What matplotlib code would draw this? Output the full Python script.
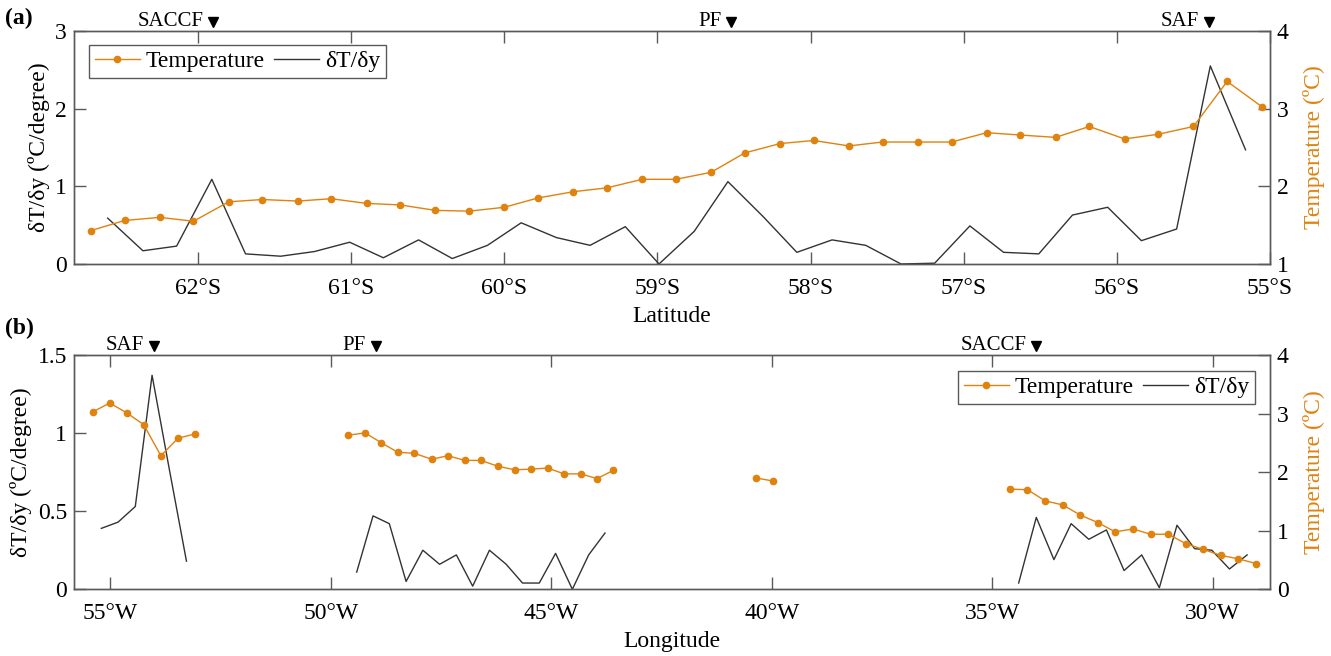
import numpy as np
import matplotlib
matplotlib.use("Agg")
import matplotlib.pyplot as plt
from matplotlib.ticker import FuncFormatter
import matplotlib.transforms as mtransforms

plt.rcParams['font.family'] = ['Liberation Serif', 'DejaVu Serif']
FS = 17
plt.rcParams['font.size'] = FS

ORANGE = '#E0820E'
AXCOL = '#5a5a5a'
LINECOL = '#333333'

# ---- panel (a): meridional section ----
lat_a = [-62.70, -62.48, -62.25, -62.03, -61.80, -61.58, -61.35, -61.13, -60.90, -60.68,
         -60.45, -60.23, -60.00, -59.78, -59.55, -59.33, -59.10, -58.88, -58.65, -58.43,
         -58.20, -57.98, -57.75, -57.53, -57.30, -57.08, -56.85, -56.63, -56.40, -56.18,
         -55.95, -55.73, -55.50, -55.28, -55.05]
temp_a = [1.43, 1.56, 1.60, 1.55, 1.80, 1.83, 1.81, 1.84, 1.78, 1.76,
          1.69, 1.68, 1.73, 1.85, 1.93, 1.98, 2.09, 2.09, 2.18, 2.43,
          2.55, 2.59, 2.52, 2.57, 2.57, 2.57, 2.69, 2.66, 2.63, 2.77,
          2.61, 2.67, 2.77, 3.35, 3.02]
glat_a = [-62.59, -62.36, -62.14, -61.91, -61.69, -61.46, -61.24, -61.01, -60.79, -60.56,
          -60.34, -60.11, -59.89, -59.66, -59.44, -59.21, -58.99, -58.76, -58.54, -58.31,
          -58.09, -57.86, -57.64, -57.41, -57.19, -56.96, -56.74, -56.51, -56.29, -56.06,
          -55.84, -55.61, -55.39, -55.16]
grad_a = [0.59, 0.17, 0.23, 1.09, 0.13, 0.10, 0.16, 0.28, 0.08, 0.31,
          0.07, 0.24, 0.53, 0.34, 0.24, 0.48, 0.00, 0.42, 1.06, 0.61,
          0.15, 0.31, 0.24, 0.00, 0.01, 0.49, 0.15, 0.13, 0.63, 0.73,
          0.30, 0.45, 2.55, 1.47]
fronts_a = {'SACCF': -61.90, 'PF': -58.52, 'SAF': -55.40}

# ---- panel (b): zonal section (gaps between segments) ----
lon_b = [-55.39, -55.01, -54.62, -54.24, -53.85, -53.46, -53.08, np.nan,
         -49.60, -49.22, -48.85, -48.48, -48.10, -47.71, -47.34, -46.96, -46.59,
         -46.21, -45.83, -45.46, -45.08, -44.71, -44.33, -43.96, -43.59, np.nan,
         -40.36, -39.98, np.nan,
         -34.60, -34.20, -33.80, -33.40, -33.01, -32.61, -32.21, -31.81, -31.41,
         -31.01, -30.61, -30.21, -29.82, -29.42, -29.02]
temp_b = [3.03, 3.18, 3.01, 2.81, 2.28, 2.58, 2.65, np.nan,
          2.63, 2.67, 2.50, 2.34, 2.32, 2.22, 2.28, 2.20, 2.20,
          2.10, 2.04, 2.05, 2.07, 1.97, 1.97, 1.89, 2.03, np.nan,
          1.90, 1.85, np.nan,
          1.71, 1.70, 1.51, 1.44, 1.27, 1.14, 0.98, 1.03, 0.94,
          0.94, 0.78, 0.68, 0.58, 0.52, 0.44]
glon_b = [-55.20, -54.82, -54.43, -54.05, -53.66, -53.27, np.nan,
          -49.41, -49.04, -48.67, -48.29, -47.91, -47.53, -47.15, -46.78, -46.40,
          -46.02, -45.65, -45.27, -44.90, -44.52, -44.15, -43.78, np.nan,
          -34.40, -34.00, -33.60, -33.21, -32.81, -32.41, -32.01, -31.61, -31.21,
          -30.81, -30.41, -30.02, -29.62, -29.22]
grad_b = [0.39, 0.43, 0.53, 1.37, 0.77, 0.18, np.nan,
          0.11, 0.47, 0.42, 0.05, 0.25, 0.16, 0.22, 0.02, 0.25,
          0.16, 0.04, 0.04, 0.23, 0.00, 0.22, 0.36, np.nan,
          0.04, 0.46, 0.19, 0.42, 0.32, 0.38, 0.12, 0.22, 0.01,
          0.41, 0.26, 0.25, 0.13, 0.22]
fronts_b = {'SAF': -54.01, 'PF': -48.98, 'SACCF': -34.01}


def style_axes(ax, ax2):
    for a in (ax, ax2):
        for sp in a.spines.values():
            sp.set_color(AXCOL)
            sp.set_linewidth(1.0)
    ax.tick_params(axis='x', direction='in', length=8.5, width=1.0, color=AXCOL,
                   top=True, labelsize=FS, pad=10)
    ax.tick_params(axis='y', direction='in', length=8.5, width=1.0, color=AXCOL,
                   right=False, labelsize=FS, pad=5)
    ax2.tick_params(axis='y', direction='in', length=8.5, width=1.0, color=AXCOL,
                    labelsize=FS, pad=5)
    ax2.tick_params(axis='x', top=False, bottom=False)


def add_fronts(ax, fronts):
    trans = mtransforms.blended_transform_factory(ax.transData, ax.transAxes)
    for name, x in fronts.items():
        ax.plot([x], [1.04], marker='v', color='black', markersize=6.5,
                transform=trans, clip_on=False, zorder=5)
        ax.annotate(name, xy=(x, 1.04), xycoords=trans, xytext=(-7, 0),
                    textcoords='offset points', ha='right', va='center',
                    fontsize=15)


def add_legend(ax2, handles, loc, anchor):
    leg = ax2.legend(handles, ['Temperature', 'δT/δy'], loc=loc, ncol=2,
                     bbox_to_anchor=anchor, borderaxespad=0, fancybox=False,
                     edgecolor=AXCOL, framealpha=1, handlelength=1.9,
                     columnspacing=0.4, handletextpad=0.25, borderpad=0.25,
                     fontsize=FS)
    leg.get_frame().set_linewidth(1.0)


fig = plt.figure(figsize=(13.31, 6.56), dpi=100)

# panel (a)
ax = fig.add_axes([0.0556, 0.5976, 0.8986, 0.3552])
ax2 = ax.twinx()
lg, = ax.plot(glat_a, grad_a, color=LINECOL, lw=1.0)
lt, = ax2.plot(lat_a, temp_a, color=ORANGE, lw=1.0, marker='o', markersize=4.5)
ax.set_xlim(-62.81, -55.0)
ax.set_ylim(0, 3)
ax2.set_ylim(1, 4)
ax.set_yticks([0, 1, 2, 3])
ax2.set_yticks([1, 2, 3, 4])
ax.set_xticks([-62, -61, -60, -59, -58, -57, -56, -55])
ax.xaxis.set_major_formatter(FuncFormatter(lambda v, p: f"{abs(v):.0f}°S"))
ax.set_xlabel('Latitude', fontsize=FS, labelpad=5)
ax.set_ylabel('δT/δy (ºC/degree)', fontsize=FS, labelpad=4)
ax2.set_ylabel('Temperature (ºC)', color=ORANGE, fontsize=FS, labelpad=10)
style_axes(ax, ax2)
add_legend(ax2, [lt, lg], 'upper left', (0.0125, 0.94))
add_fronts(ax, fronts_a)
fig.text(0.004, 0.9726, '(a)', fontweight='bold', fontsize=FS, va='center')

# panel (b)
bx = fig.add_axes([0.0556, 0.1017, 0.8986, 0.3572])
bx2 = bx.twinx()
bg, = bx.plot(glon_b, grad_b, color=LINECOL, lw=1.0)
bt, = bx2.plot(lon_b, temp_b, color=ORANGE, lw=1.0, marker='o', markersize=4.5)
bx.set_xlim(-55.82, -28.70)
bx.set_ylim(0, 1.5)
bx2.set_ylim(0, 4)
bx.set_yticks([0, 0.5, 1, 1.5])
bx.set_yticklabels(['0', '0.5', '1', '1.5'])
bx2.set_yticks([0, 1, 2, 3, 4])
bx.set_xticks([-55, -50, -45, -40, -35, -30])
bx.xaxis.set_major_formatter(FuncFormatter(lambda v, p: f"{abs(v):.0f}°W"))
bx.set_xlabel('Longitude', fontsize=FS, labelpad=5)
bx.set_ylabel('δT/δy (ºC/degree)', fontsize=FS, labelpad=4)
bx2.set_ylabel('Temperature (ºC)', color=ORANGE, fontsize=FS, labelpad=10)
style_axes(bx, bx2)
add_legend(bx2, [bt, bg], 'upper right', (0.9875, 0.933))
add_fronts(bx, fronts_b)
fig.text(0.004, 0.50, '(b)', fontweight='bold', fontsize=FS, va='center')

fig.savefig('out.png', dpi=100)
